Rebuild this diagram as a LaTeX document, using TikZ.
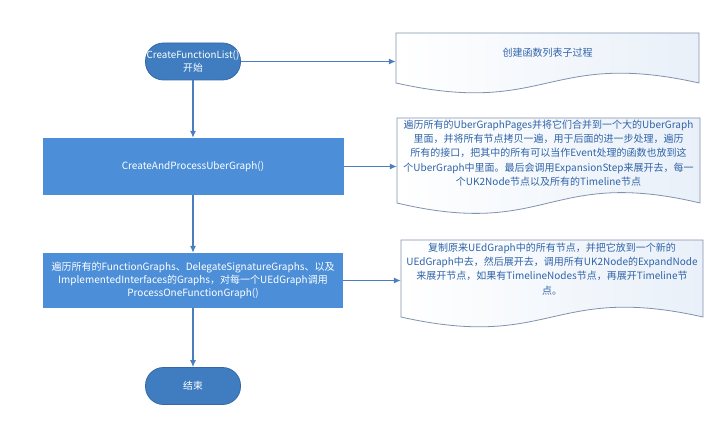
\documentclass[tikz,border=0pt]{standalone}
\usepackage{fontspec}
\setmainfont{Noto Sans CJK SC}
\usetikzlibrary{arrows.meta,calc}
\definecolor{termfill}{HTML}{3F7DC0}
\definecolor{termline}{HTML}{3468A6}
\definecolor{procfill}{HTML}{4C8FD8}
\definecolor{arrowc}{HTML}{4A7EBF}
\definecolor{docline}{HTML}{7F93AD}
\definecolor{doctext}{HTML}{2F63A8}
\definecolor{docfill}{HTML}{E9F0F9}
\tikzset{
 term/.style={draw=termline, line width=0.8pt, fill=termfill, rounded corners=18pt, minimum width=95pt, minimum height=37pt, text=white, align=center, inner sep=0pt, font=\fontsize{9.8}{12.5}\selectfont},
 proc/.style={fill=procfill, text=white, align=center, inner sep=0pt, font=\fontsize{10}{13}\selectfont},
 conn/.style={draw=arrowc, line width=1.1pt, -{Latex[length=7pt,width=6pt]}},
 docarea/.style={inner sep=0pt, draw=none},
 doctxt/.style={text=doctext, align=center, font=\fontsize{10}{14.3}\selectfont, inner sep=0pt},
 docsh/.style={draw=docline, line width=0.8pt, left color=white, right color=docfill}
}
\newcommand\mydoc[5]{%
 \path[docsh] (#1,#2) -- (#3,#2) -- (#3,#4) .. controls ({(#1+#3)/2},{#4-#5}) and ({(#1+#3)/2},{#4+#5}) .. (#1,#4) -- cycle;}
\begin{document}
\begin{tikzpicture}[x=1pt,y=-1pt]
\useasboundingbox (0,0) rectangle (719,422);
\node[term] (start) at (193,61.5) {CreateFunctionList()\\开始};
\node[proc, minimum width=301pt, minimum height=57pt] (p1) at (193,166.5) {CreateAndProcessUberGraph()};
\node[proc, minimum width=300pt, minimum height=55pt] (p2) at (193,280.5) {遍历所有的FunctionGraphs、DelegateSignatureGraphs、以及\\ImplementedInterfaces的Graphs，对每一个UEdGraph调用\\ProcessOneFunctionGraph()};
\node[term] (end) at (193,386) {结束};

\mydoc{396}{33}{699}{83}{34}
\node[docarea, minimum width=303pt, minimum height=50pt] (doc1) at (547.5,58) {};
\node[doctxt] (doc1text) at (547.5,53) {创建函数列表子过程};

\mydoc{397}{118}{700}{203}{36}
\node[docarea, minimum width=303pt, minimum height=85pt] (doc2) at (548.5,160.5) {};
\node[doctxt] (doc2text) at (548.5,153) {遍历所有的UberGraphPages并将它们合并到一个大的UberGraph\\里面，并将所有节点拷贝一遍，用于后面的进一步处理，遍历\\所有的接口，把其中的所有可以当作Event处理的函数也放到这\\个UberGraph中里面。最后会调用ExpansionStep来展开去，每一\\个UK2Node节点以及所有的Timeline节点};

\mydoc{401}{240}{703}{317}{34}
\node[docarea, minimum width=302pt, minimum height=77pt] (doc3) at (552,278.5) {};
\node[doctxt] (doc3text) at (552,269) {复制原来UEdGraph中的所有节点，并把它放到一个新的\\UEdGraph中去，然后展开去，调用所有UK2Node的ExpandNode\\来展开节点，如果有TimelineNodes节点，再展开Timeline节\\点。};

\draw[conn] (start) -- (p1);
\draw[conn] (p1) -- (p2);
\draw[conn] (p2) -- (end);
\draw[conn] (start.east) -- (start.east -| doc1.west);
\draw[conn] (p1.east) -- (p1.east -| doc2.west);
\draw[conn] (p2.east) -- (p2.east -| doc3.west);
\end{tikzpicture}
\end{document}
